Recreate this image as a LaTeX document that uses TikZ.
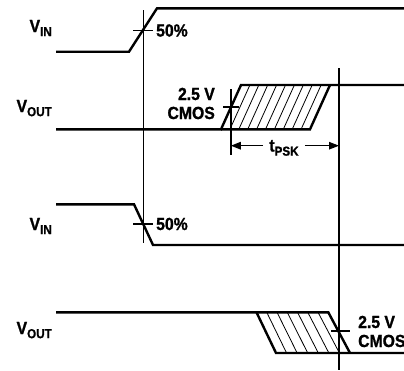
\documentclass[tikz,border=0pt]{standalone}
\usepackage{fontspec}
\setmainfont{Liberation Sans}[FakeStretch=0.9, BoldFeatures={FakeBold=1.2}]
\usetikzlibrary{arrows.meta,calc}
\newcommand\lowsub[1]{\raisebox{-0.45ex}{\fontsize{13}{13}\selectfont #1}}
\begin{document}
\begin{tikzpicture}[x=1pt,y=-1pt,
  wave/.style={line width=2.4pt, line join=miter, line cap=butt},
  refline/.style={line width=1.5pt},
  hatchline/.style={line width=0.8pt},
  tick/.style={line width=1.5pt},
  lbl/.style={font=\bfseries\fontsize{17.5}{17.5}\selectfont, inner sep=0pt},
  dimarrow/.style={line width=1.3pt, -{Triangle[length=10pt,width=7.5pt]}}]
\useasboundingbox (0,0) rectangle (404,370);

% ---------- V_IN (rising) ----------
\coordinate (i1a) at (56,51.7);
\coordinate (i1b) at (129,51.7);
\coordinate (i1c) at (157,8.3);
\coordinate (i1d) at (404,8.3);
\draw[wave] (i1a) -- (i1b) -- (i1c) -- (i1d);

% ---------- V_OUT (rising) ----------
\coordinate (o1a) at (56,129.3);
\coordinate (o1b) at (221,129.3);
\coordinate (o1c) at (241,85);
\coordinate (o1d) at (404,85);
\coordinate (o1e) at (310,129.3);
\coordinate (o1f) at (330,85);
\draw[wave] (o1a) -- (o1b) -- (o1c) -- (o1d);
\draw[wave] (o1b) -- (o1e) -- (o1f);
\foreach \k in {1,...,9}
  \draw[hatchline] ($(o1b)!\k/10!(o1e)$) -- ($(o1c)!\k/10!(o1f)$);

% ---------- V_IN (falling) ----------
\coordinate (i2a) at (56,204.3);
\coordinate (i2b) at (134,204.3);
\coordinate (i2c) at (153,245);
\coordinate (i2d) at (404,245);
\draw[wave] (i2a) -- (i2b) -- (i2c) -- (i2d);

% ---------- V_OUT (falling) ----------
\coordinate (o2a) at (56,312.3);
\coordinate (o2b) at (256.5,312.3);
\coordinate (o2c) at (276,353);
\coordinate (o2d) at (404,353);
\coordinate (o2e) at (328.3,312.3);
\coordinate (o2f) at (350,353);
\draw[wave] (o2a) -- (o2e) -- (o2f);
\draw[wave] (o2b) -- (o2c) -- (o2d);
\foreach \k in {1,...,6}
  \draw[hatchline] ($(o2b)!\k/7!(o2e)$) -- ($(o2c)!\k/7!(o2f)$);

% ---------- reference verticals ----------
\coordinate (v1t) at (143.3,10);
\coordinate (v1b) at (143.3,243);
\coordinate (v2t) at (230.8,89);
\coordinate (v2b) at (230.8,155);
\coordinate (v3t) at (339,68);
\coordinate (v3b) at (339,370);
\draw[refline] (v1t) -- (v1b);
\draw[refline] (v2t) -- (v2b);
\draw[refline] (v3t) -- (v3b);

% ---------- crossing ticks ----------
\coordinate (t1l) at (133,30.7);  \coordinate (t1r) at (152.5,30.7);
\coordinate (t2l) at (223,107);   \coordinate (t2r) at (239,107);
\coordinate (t3l) at (133,224);   \coordinate (t3r) at (152.5,224);
\coordinate (t4l) at (331,331);   \coordinate (t4r) at (350,331);
\draw[tick] (t1l) -- (t1r);
\draw[tick] (t2l) -- (t2r);
\draw[tick] (t3l) -- (t3r);
\draw[tick] (t4l) -- (t4r);

% ---------- labels ----------
\node[lbl, anchor=base east] (lvin1) at (52,32) {V\lowsub{IN}};
\node[lbl, anchor=base east] (lvout1) at (52,112) {V\lowsub{OUT}};
\node[lbl, anchor=base east] (lvin2) at (52,230) {V\lowsub{IN}};
\node[lbl, anchor=base east] (lvout2) at (52,334) {V\lowsub{OUT}};

\node[lbl, anchor=base west] (p1) at (156,36.5) {50\%};
\node[lbl, anchor=base west] (p2) at (156,230) {50\%};

\node[lbl, anchor=base east] (c1a) at (215,100) {2.5 V};
\node[lbl, anchor=base east] (c1b) at (215,119) {CMOS};
\node[lbl, anchor=base west] (c2a) at (358,328) {2.5 V};
\node[lbl, anchor=base west] (c2b) at (358,347) {CMOS};

% ---------- t_PSK dimension ----------
\node[lbl, anchor=base, inner xsep=6pt] (tpsk) at (284,151.5) {t\lowsub{PSK}};
\coordinate (al) at (230.8,145.7);
\coordinate (ar) at (339,145.7);
\draw[dimarrow] (tpsk.west |- al) -- (al);
\draw[dimarrow] (tpsk.east |- ar) -- (ar);
\end{tikzpicture}
\end{document}
